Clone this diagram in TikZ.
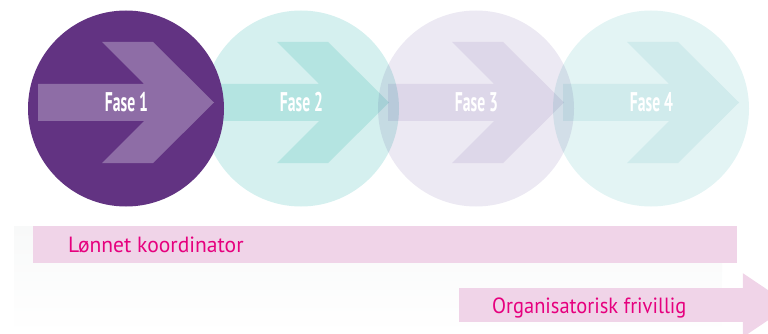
\documentclass[tikz,border=0pt]{standalone}
\usepackage{fontspec}
\setmainfont{PT Sans}
\newfontfamily\fasefont{PT Sans}
\usetikzlibrary{calc}
\definecolor{cOne}{RGB}{98,51,130}
\definecolor{aOne}{RGB}{142,109,166}
\definecolor{cTwo}{RGB}{213,240,239}
\definecolor{aTwo}{RGB}{216,243,241}
\definecolor{cThree}{RGB}{236,233,243}
\definecolor{aThree}{RGB}{239,236,245}
\definecolor{cFour}{RGB}{227,244,244}
\definecolor{aFour}{RGB}{234,246,247}
\definecolor{pinkbar}{RGB}{240,212,232}
\definecolor{magtext}{RGB}{230,0,126}
\definecolor{shadowgray}{RGB}{248,249,249}
\tikzset{
  phasecircle/.style={circle, minimum size=196pt, inner sep=0pt, draw=none},
  fasetext/.style={text=white, inner sep=0pt, font=\fasefont\bfseries\fontsize{27}{27}\selectfont},
  bartext/.style={text=magtext, inner sep=0pt, font=\fontsize{22}{22}\selectfont},
  pics/chev/.style={code={\fill[#1] (-88,-18.5) -- (18,-18.5) -- (-24,-60.5) -- (27,-60.5) -- (88,0) -- (27,60.5) -- (-24,60.5) -- (18,18.5) -- (-88,18.5) -- cycle;}}
}
\begin{document}
\begin{tikzpicture}[x=1pt,y=-1pt]
\useasboundingbox (0,0) rectangle (768,334);
\clip (0,0) rectangle (768,334);
% faint shadow band
\shade[top color=shadowgray, bottom color=white] (14,226) rectangle (722,334);
% phases 2-4 (multiplied)
\begin{scope}[blend mode=multiply]
  \node[phasecircle, fill=cFour] (c4) at (651,108.5) {};
  \pic at ($(c4)+(0,-6)$) {chev=aFour};
  \node[phasecircle, fill=cThree] (c3) at (476,108.5) {};
  \pic at ($(c3)+(0,-6)$) {chev=aThree};
  \node[phasecircle, fill=cTwo] (c2) at (301,108.5) {};
  \pic at ($(c2)+(0,-6)$) {chev=aTwo};
\end{scope}
% phase 1
\node[phasecircle, fill=cOne] (c1) at (126,108.5) {};
\pic at ($(c1)+(0,-6)$) {chev=aOne};
% labels
\node[fasetext] (t1) at ($(c1)+(0.5,-6)$) {\scalebox{0.58}[1]{Fase 1}};
\node[fasetext] (t2) at ($(c2)+(0.5,-6)$) {\scalebox{0.58}[1]{Fase 2}};
\node[fasetext] (t3) at ($(c3)+(0.5,-6)$) {\scalebox{0.58}[1]{Fase 3}};
\node[fasetext] (t4) at ($(c4)+(0.5,-6)$) {\scalebox{0.58}[1]{Fase 4}};
% bottom bars
\node[fill=pinkbar, inner sep=0pt, minimum width=704pt, minimum height=37pt, anchor=north west] (bar) at (33,226) {};
\node[bartext, anchor=base west] (l1) at (68,252) {\scalebox{0.98}[1]{Lønnet koordinator}};
\node[fill=pinkbar, inner sep=0pt, minimum width=284pt, minimum height=34pt, anchor=north west] (arr) at (459,288) {};
\fill[pinkbar] ($(arr.east)+(-0.5,-32)$) -- ($(arr.east)+(47,0)$) -- ($(arr.east)+(-0.5,32)$) -- cycle;
\node[bartext, anchor=base west] (l2) at (492,313) {\scalebox{0.93}[1]{Organisatorisk frivillig}};
\end{tikzpicture}
\end{document}
